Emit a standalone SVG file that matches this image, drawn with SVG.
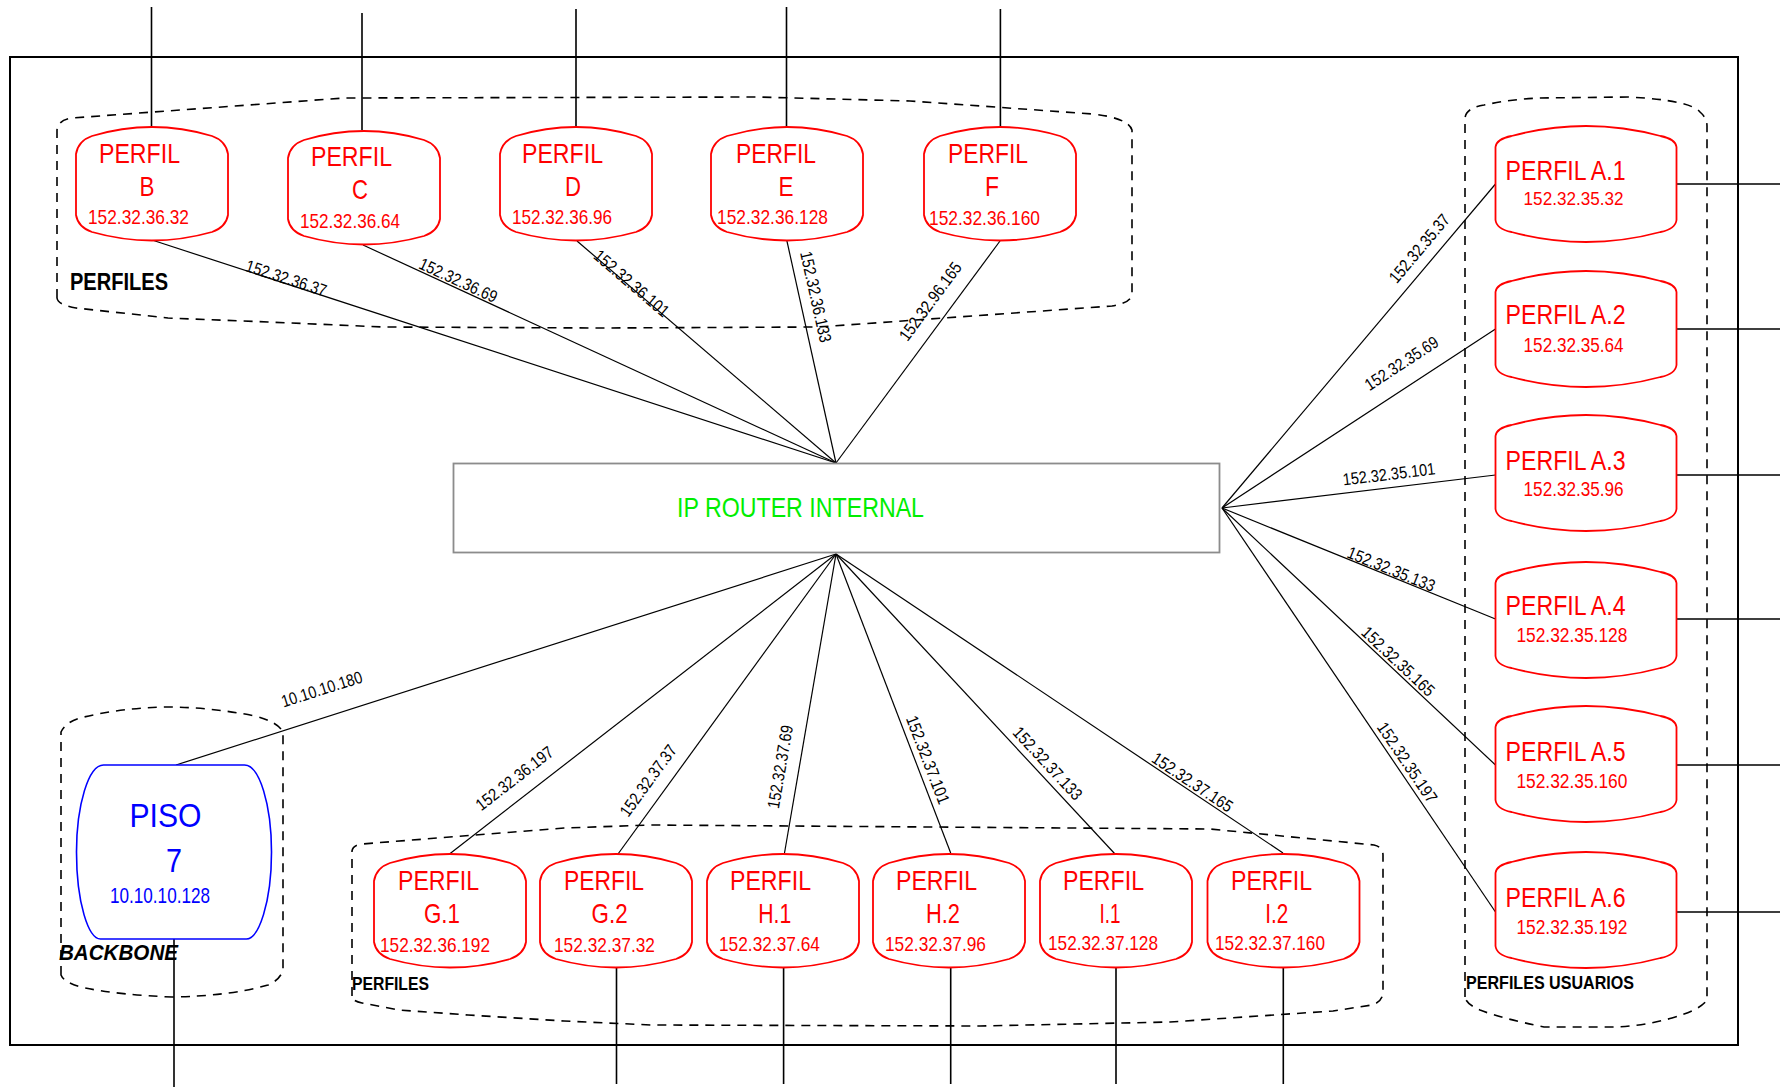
<svg xmlns="http://www.w3.org/2000/svg" width="1780" height="1087" viewBox="0 0 1780 1087">
  <style>
    .frame { fill: none; stroke: #000; stroke-width: 2; }
    .zone { fill: none; stroke: #000; stroke-width: 1.6; stroke-dasharray: 9 7; }
    .wire { stroke: #000; stroke-width: 1.2; fill: none; }
    .ext { stroke: #000; stroke-width: 1.6; fill: none; }
    .red { fill: #fff; stroke: #ff0000; stroke-width: 1.8; }
    .blue { fill: #fff; stroke: #0000ff; stroke-width: 1.6; }
    .router { fill: #fff; stroke: #8c8c8c; stroke-width: 1.8; }
    text { font-family: "Liberation Sans", Arial, sans-serif; }
    .tr { fill: #ff0000; }
    .pf { font-size: 28px; }
    .ip { font-size: 21px; }
    .tb { fill: #0000ff; }
    .lbl { font-size: 17px; fill: #000; text-anchor: middle; }
    .zl { font-weight: bold; fill: #000; }
  </style>
  <defs>
    <path id="shape-red" d="M0,27 Q2,14 16,9 Q76,-9 136,9 Q150,14 152,27 L152,88 Q150,100 136,105 Q76,122 16,105 Q2,100 0,88 Z"/>
    <path id="shape-user" d="M0,21 Q1,13 16,10 Q90.5,-10 165,10 Q180,13 181,21 L181,94 Q180,103 165,106 Q90.5,126 16,106 Q1,103 0,94 Z"/>
    <path id="shape-floor" d="M27,0 L168,0 C183,0 195,40 195,87 C195,138 182,174 170,174 L24,174 C12,174 0,138 0,87 C0,40 12,0 27,0 Z"/>
  </defs>

  <rect width="1780" height="1087" fill="#fff"/>

  <!-- outer frame -->
  <rect class="frame" x="10" y="57" width="1728" height="988"/>

  <!-- dashed zones -->
  <g id="zones">
    <path class="zone" d="M57,298 L57,130 Q58,120 72,118 L344,98 L756,97 L910,101 L1093,114 Q1128,118 1132,130 L1132,295 Q1130,303 1112,306 L818,327 L600,328 L383,327 L268,322 L168,318 L76,308 Q58,305 57,298 Z"/>
    <path class="zone" d="M352,996 L352,851 Q353,845 362,844 L564,828 L651,825 L1210,829 L1313,839 L1374,845 Q1383,847 1383,855 L1383,993 Q1382,1002 1372,1005 L1333,1011 L1170,1022 L980,1026 L651,1025 L564,1021 L468,1015 L399,1010 L362,1003 Q352,1001 352,996 Z"/>
    <path class="zone" d="M1465,997 L1465,118 Q1466,108 1484,105 Q1512,99 1540,98 L1628,97 Q1690,100 1700,112 Q1707,118 1707,126 L1707,1000 Q1700,1010 1672,1018 Q1640,1027 1610,1027 L1544,1027 Q1500,1018 1480,1010 Q1466,1004 1465,997 Z"/>
    <path class="zone" d="M61,975 L61,732 Q66,722 80,718 Q120,708 165,707 Q210,707 255,716 Q278,722 283,732 L283,970 Q280,980 268,985 Q230,996 172,997 Q120,995 85,988 Q64,983 61,975 Z"/>
    <text class="zl" x="70" y="290" font-size="23" textLength="98" lengthAdjust="spacingAndGlyphs">PERFILES</text>
    <text class="zl" x="352" y="990" font-size="18" textLength="77" lengthAdjust="spacingAndGlyphs">PERFILES</text>
    <text class="zl" x="1466" y="989" font-size="18" textLength="168" lengthAdjust="spacingAndGlyphs">PERFILES USUARIOS</text>
    <text class="zl" x="59" y="960" font-size="22" font-style="italic" textLength="119" lengthAdjust="spacingAndGlyphs">BACKBONE</text>
  </g>

  <!-- links from the router to every profile -->
  <g id="connectors">
    <path class="wire" d="M152,240 L836,463"/>
    <path class="wire" d="M363,245 L836,463"/>
    <path class="wire" d="M577,241 L836,463"/>
    <path class="wire" d="M786.5,239 L836,463"/>
    <path class="wire" d="M1000,241 L836,463"/>
    <path class="wire" d="M1222,508 L1495.5,184"/>
    <path class="wire" d="M1222,508 L1495.5,329"/>
    <path class="wire" d="M1222,508 L1495.5,475"/>
    <path class="wire" d="M1222,508 L1495.5,619"/>
    <path class="wire" d="M1222,508 L1495.5,765"/>
    <path class="wire" d="M1222,508 L1495.5,912"/>
    <path class="wire" d="M836,554 L176,765"/>
    <path class="wire" d="M836,554 L449.5,854"/>
    <path class="wire" d="M836,554 L618,854"/>
    <path class="wire" d="M836,554 L784.5,853"/>
    <path class="wire" d="M836,554 L950.7,853"/>
    <path class="wire" d="M836,554 L1115,854"/>
    <path class="wire" d="M836,554 L1283,853"/>

    <text class="lbl" transform="translate(286,279) rotate(18.06)" y="5" textLength="84" lengthAdjust="spacingAndGlyphs">152.32.36.37</text>
    <text class="lbl" transform="translate(458,281) rotate(24.74)" y="5" textLength="84" lengthAdjust="spacingAndGlyphs">152.32.36.69</text>
    <text class="lbl" transform="translate(631,284) rotate(40.47)" y="5" textLength="93" lengthAdjust="spacingAndGlyphs">152.32.36.101</text>
    <text class="lbl" transform="translate(815,297) rotate(77.54)" y="5" textLength="93" lengthAdjust="spacingAndGlyphs">152.32.36.133</text>
    <text class="lbl" transform="translate(931,302) rotate(-53.55)" y="5" textLength="93" lengthAdjust="spacingAndGlyphs">152.32.96.165</text>
    <text class="lbl" transform="translate(1420,249) rotate(-49.83)" y="5" textLength="84" lengthAdjust="spacingAndGlyphs">152.32.35.37</text>
    <text class="lbl" transform="translate(1402,364) rotate(-33.2)" y="5" textLength="84" lengthAdjust="spacingAndGlyphs">152.32.35.69</text>
    <text class="lbl" transform="translate(1389,475) rotate(-6.88)" y="5" textLength="93" lengthAdjust="spacingAndGlyphs">152.32.35.101</text>
    <text class="lbl" transform="translate(1391,570) rotate(22.14)" y="5" textLength="93" lengthAdjust="spacingAndGlyphs">152.32.35.133</text>
    <text class="lbl" transform="translate(1397.6,662) rotate(43.22)" y="5" textLength="93" lengthAdjust="spacingAndGlyphs">152.32.35.165</text>
    <text class="lbl" transform="translate(1406.5,763) rotate(55.88)" y="5" textLength="93" lengthAdjust="spacingAndGlyphs">152.32.35.197</text>
    <text class="lbl" transform="translate(322,690) rotate(-17.65)" y="5" textLength="84" lengthAdjust="spacingAndGlyphs">10.10.10.180</text>
    <text class="lbl" transform="translate(515,779) rotate(-37.82)" y="5" textLength="93" lengthAdjust="spacingAndGlyphs">152.32.36.197</text>
    <text class="lbl" transform="translate(649,781) rotate(-53.99)" y="5" textLength="84" lengthAdjust="spacingAndGlyphs">152.32.37.37</text>
    <text class="lbl" transform="translate(781,767) rotate(-80.2)" y="5" textLength="84" lengthAdjust="spacingAndGlyphs">152.32.37.69</text>
    <text class="lbl" transform="translate(927,760) rotate(68.95)" y="5" textLength="93" lengthAdjust="spacingAndGlyphs">152.32.37.101</text>
    <text class="lbl" transform="translate(1047,764) rotate(47.07)" y="5" textLength="93" lengthAdjust="spacingAndGlyphs">152.32.37.133</text>
    <text class="lbl" transform="translate(1192,783) rotate(33.7)" y="5" textLength="93" lengthAdjust="spacingAndGlyphs">152.32.37.165</text>
  </g>

  <!-- uplinks leaving the frame -->
  <g id="external-links">
    <path class="ext" d="M151.5,7 V127 M362,13 V130 M576,9 V127 M786.5,7 V127 M1000.4,9 V127"/>
    <path class="ext" d="M1677,184 H1780 M1677,329 H1780 M1677,475 H1780 M1677,619 H1780 M1677,765 H1780 M1677,912 H1780"/>
    <path class="ext" d="M174,939 V1087 M616.5,968 V1084 M783.6,968 V1084 M950.7,968 V1084 M1116,968 V1084 M1283.3,968 V1084"/>
  </g>

  <!-- router -->
  <g id="router">
    <rect class="router" x="453.5" y="463.5" width="766" height="89"/>
    <text x="677" y="517" font-size="28" fill="#00ee00" textLength="247" lengthAdjust="spacingAndGlyphs">IP ROUTER INTERNAL</text>
  </g>

  <!-- upper profiles -->
  <g id="perfil-b">
    <use href="#shape-red" class="red" x="76" y="127"/>
    <text class="tr pf" x="99" y="163" textLength="81" lengthAdjust="spacingAndGlyphs">PERFIL</text>
    <text class="tr pf" x="147" y="196" text-anchor="middle" textLength="15" lengthAdjust="spacingAndGlyphs">B</text>
    <text class="tr ip" x="88" y="224" textLength="101" lengthAdjust="spacingAndGlyphs">152.32.36.32</text>
  </g>
  <g id="perfil-c">
    <use href="#shape-red" class="red" x="288" y="131"/>
    <text class="tr pf" x="311" y="166" textLength="81" lengthAdjust="spacingAndGlyphs">PERFIL</text>
    <text class="tr pf" x="360" y="199" text-anchor="middle" textLength="16" lengthAdjust="spacingAndGlyphs">C</text>
    <text class="tr ip" x="300" y="228" textLength="100" lengthAdjust="spacingAndGlyphs">152.32.36.64</text>
  </g>
  <g id="perfil-d">
    <use href="#shape-red" class="red" x="500" y="127"/>
    <text class="tr pf" x="522" y="163" textLength="81" lengthAdjust="spacingAndGlyphs">PERFIL</text>
    <text class="tr pf" x="573" y="196" text-anchor="middle" textLength="16" lengthAdjust="spacingAndGlyphs">D</text>
    <text class="tr ip" x="512" y="224" textLength="100" lengthAdjust="spacingAndGlyphs">152.32.36.96</text>
  </g>
  <g id="perfil-e">
    <use href="#shape-red" class="red" x="711" y="127"/>
    <text class="tr pf" x="736" y="163" textLength="80" lengthAdjust="spacingAndGlyphs">PERFIL</text>
    <text class="tr pf" x="786" y="196" text-anchor="middle" textLength="15" lengthAdjust="spacingAndGlyphs">E</text>
    <text class="tr ip" x="717" y="224" textLength="111" lengthAdjust="spacingAndGlyphs">152.32.36.128</text>
  </g>
  <g id="perfil-f">
    <use href="#shape-red" class="red" x="924" y="127"/>
    <text class="tr pf" x="948" y="163" textLength="80" lengthAdjust="spacingAndGlyphs">PERFIL</text>
    <text class="tr pf" x="992" y="196" text-anchor="middle" textLength="14" lengthAdjust="spacingAndGlyphs">F</text>
    <text class="tr ip" x="929" y="225" textLength="111" lengthAdjust="spacingAndGlyphs">152.32.36.160</text>
  </g>

  <!-- user profiles -->
  <g id="perfil-a1">
    <use href="#shape-user" class="red" x="1495.5" y="126"/>
    <text class="tr pf" x="1505.6" y="180" textLength="120" lengthAdjust="spacingAndGlyphs">PERFIL A.1</text>
    <text class="tr" x="1523.6" y="205" font-size="18" textLength="100" lengthAdjust="spacingAndGlyphs">152.32.35.32</text>
  </g>
  <g id="perfil-a2">
    <use href="#shape-user" class="red" x="1495.5" y="271"/>
    <text class="tr pf" x="1505.6" y="324" textLength="120" lengthAdjust="spacingAndGlyphs">PERFIL A.2</text>
    <text class="tr" x="1523.6" y="352" font-size="20" textLength="100" lengthAdjust="spacingAndGlyphs">152.32.35.64</text>
  </g>
  <g id="perfil-a3">
    <use href="#shape-user" class="red" x="1495.5" y="415"/>
    <text class="tr pf" x="1505.6" y="470" textLength="120" lengthAdjust="spacingAndGlyphs">PERFIL A.3</text>
    <text class="tr" x="1523.6" y="496" font-size="20" textLength="100" lengthAdjust="spacingAndGlyphs">152.32.35.96</text>
  </g>
  <g id="perfil-a4">
    <use href="#shape-user" class="red" x="1495.5" y="562"/>
    <text class="tr pf" x="1505.6" y="615" textLength="120" lengthAdjust="spacingAndGlyphs">PERFIL A.4</text>
    <text class="tr" x="1516.4" y="642" font-size="20" textLength="111" lengthAdjust="spacingAndGlyphs">152.32.35.128</text>
  </g>
  <g id="perfil-a5">
    <use href="#shape-user" class="red" x="1495.5" y="706"/>
    <text class="tr pf" x="1505.6" y="761" textLength="120" lengthAdjust="spacingAndGlyphs">PERFIL A.5</text>
    <text class="tr" x="1516.4" y="788" font-size="20" textLength="111" lengthAdjust="spacingAndGlyphs">152.32.35.160</text>
  </g>
  <g id="perfil-a6">
    <use href="#shape-user" class="red" x="1495.5" y="852"/>
    <text class="tr pf" x="1505.6" y="907" textLength="120" lengthAdjust="spacingAndGlyphs">PERFIL A.6</text>
    <text class="tr" x="1516.4" y="934" font-size="20" textLength="111" lengthAdjust="spacingAndGlyphs">152.32.35.192</text>
  </g>

  <!-- backbone floor -->
  <g id="piso-7">
    <use href="#shape-floor" class="blue" x="76.5" y="765"/>
    <text class="tb" x="129.5" y="827" font-size="34" textLength="72" lengthAdjust="spacingAndGlyphs">PISO</text>
    <text class="tb" x="174" y="872" font-size="34" text-anchor="middle" textLength="16" lengthAdjust="spacingAndGlyphs">7</text>
    <text class="tb" x="110" y="903" font-size="22" textLength="100" lengthAdjust="spacingAndGlyphs">10.10.10.128</text>
  </g>

  <!-- lower profiles -->
  <g id="perfil-g1">
    <use href="#shape-red" class="red" x="374" y="854"/>
    <text class="tr pf" x="398" y="890" textLength="81" lengthAdjust="spacingAndGlyphs">PERFIL</text>
    <text class="tr pf" x="442" y="923" text-anchor="middle" textLength="36" lengthAdjust="spacingAndGlyphs">G.1</text>
    <text class="tr ip" x="380" y="952" textLength="110" lengthAdjust="spacingAndGlyphs">152.32.36.192</text>
  </g>
  <g id="perfil-g2">
    <use href="#shape-red" class="red" x="540" y="854"/>
    <text class="tr pf" x="564" y="890" textLength="80" lengthAdjust="spacingAndGlyphs">PERFIL</text>
    <text class="tr pf" x="609.6" y="923" text-anchor="middle" textLength="36" lengthAdjust="spacingAndGlyphs">G.2</text>
    <text class="tr ip" x="554" y="952" textLength="101" lengthAdjust="spacingAndGlyphs">152.32.37.32</text>
  </g>
  <g id="perfil-h1">
    <use href="#shape-red" class="red" x="707" y="854"/>
    <text class="tr pf" x="730" y="890" textLength="81" lengthAdjust="spacingAndGlyphs">PERFIL</text>
    <text class="tr pf" x="774.7" y="923" text-anchor="middle" textLength="33" lengthAdjust="spacingAndGlyphs">H.1</text>
    <text class="tr ip" x="719" y="951" textLength="101" lengthAdjust="spacingAndGlyphs">152.32.37.64</text>
  </g>
  <g id="perfil-h2">
    <use href="#shape-red" class="red" x="873" y="854"/>
    <text class="tr pf" x="896" y="890" textLength="81" lengthAdjust="spacingAndGlyphs">PERFIL</text>
    <text class="tr pf" x="943" y="923" text-anchor="middle" textLength="34" lengthAdjust="spacingAndGlyphs">H.2</text>
    <text class="tr ip" x="885" y="951" textLength="101" lengthAdjust="spacingAndGlyphs">152.32.37.96</text>
  </g>
  <g id="perfil-i1">
    <use href="#shape-red" class="red" x="1040" y="854"/>
    <text class="tr pf" x="1063" y="890" textLength="81" lengthAdjust="spacingAndGlyphs">PERFIL</text>
    <text class="tr pf" x="1110" y="923" text-anchor="middle" textLength="21" lengthAdjust="spacingAndGlyphs">I.1</text>
    <text class="tr ip" x="1048" y="950" textLength="110" lengthAdjust="spacingAndGlyphs">152.32.37.128</text>
  </g>
  <g id="perfil-i2">
    <use href="#shape-red" class="red" x="1207.5" y="854"/>
    <text class="tr pf" x="1231" y="890" textLength="81" lengthAdjust="spacingAndGlyphs">PERFIL</text>
    <text class="tr pf" x="1276.7" y="923" text-anchor="middle" textLength="23" lengthAdjust="spacingAndGlyphs">I.2</text>
    <text class="tr ip" x="1215" y="950" textLength="110" lengthAdjust="spacingAndGlyphs">152.32.37.160</text>
  </g>
</svg>
